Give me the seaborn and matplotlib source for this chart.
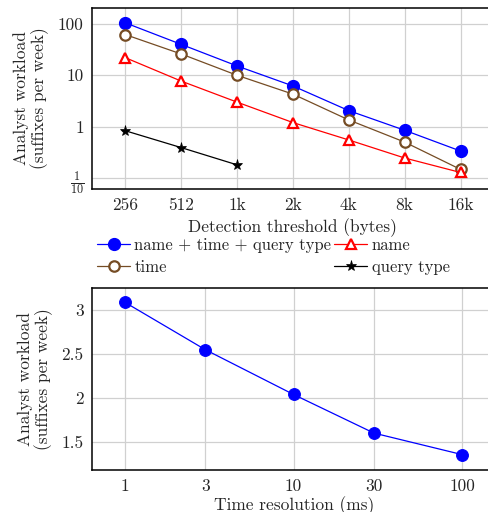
import numpy as np
import pandas as pd
import seaborn as sns
import matplotlib
matplotlib.use("Agg")
from matplotlib import pyplot as plt
from matplotlib.lines import Line2D

# top panel: workload vs detection threshold
thresholds = [256, 512, 1024, 2048, 4096, 8192, 16384]
threshold_labels = ['256', '512', '1k', '2k', '4k', '8k', '16k']
all_features = [105, 40, 15.2, 6.2, 2.05, 0.85, 0.335]
time_only = [62, 26, 10, 4.3, 1.35, 0.5, 0.147]
name_only = [22, 7.7, 3.0, 1.2, 0.55, 0.245, 0.128]
query_type = [0.83, 0.39, 0.18]

# bottom panel: workload vs time resolution
resolutions = [1, 3, 10, 30, 100]
resolution_workload = [3.09, 2.55, 2.04, 1.60, 1.355]

sns.set_style('whitegrid')
plt.rcParams['font.family'] = ['cmr10', 'DejaVu Serif']
plt.rcParams['mathtext.fontset'] = 'cm'
plt.rcParams['axes.formatter.use_mathtext'] = True
plt.rcParams['font.size'] = 12

FS = 12.5
GRID = '#d0d0d0'
BROWN = '#754c24'


def style_axes(ax):
    ax.grid(True, which='major', color=GRID, linewidth=0.9)
    ax.grid(False, which='minor')
    for side in ['left', 'bottom', 'top', 'right']:
        ax.spines[side].set_color('black')
        ax.spines[side].set_linewidth(1.1)
    ax.tick_params(which='major', direction='in', length=4, color='#808080',
                   labelsize=FS, pad=6)
    ax.tick_params(which='minor', length=0)
    ax.set_facecolor('white')


fig = plt.figure(figsize=(4.89, 5.12), dpi=100)
ax1 = fig.add_axes([92 / 489, 1 - 189 / 512, 402 / 489, 181 / 512])
ax2 = fig.add_axes([92 / 489, 1 - 470 / 512, 404 / 489, 182 / 512])

top = pd.DataFrame({
    'x': thresholds * 3 + thresholds[:3],
    'y': all_features + time_only + name_only + query_type,
    'series': (['name + time + query type'] * 7 + ['time'] * 7 +
               ['name'] * 7 + ['query type'] * 3),
})

styles = {
    'name + time + query type': dict(color='#0000ff', marker='o', ms=8.5,
                                     mfc='#0000ff', mec='#0000ff', mew=1),
    'time': dict(color=BROWN, marker='o', ms=7.5, mfc='white', mec=BROWN, mew=1.6),
    'name': dict(color='#ff0000', marker='^', ms=7.5, mfc='white', mec='#ff0000', mew=1.6),
    'query type': dict(color='black', marker='*', ms=8, mfc='black', mec='black', mew=0.5),
}

for name, st in styles.items():
    d = top[top['series'] == name]
    sns.lineplot(data=d, x='x', y='y', ax=ax1, color=st['color'], linewidth=0.9,
                 marker=st['marker'], markersize=st['ms'], markerfacecolor=st['mfc'],
                 markeredgecolor=st['mec'], markeredgewidth=st['mew'], legend=False)

ax1.set_xscale('log', base=2)
ax1.set_yscale('log')
ax1.set_xlim(256 / 2 ** 0.6, 16384 * 2 ** 0.6)
ax1.set_ylim(0.061, 205)
ax1.set_xticks(thresholds)
ax1.set_xticklabels(threshold_labels)
ax1.set_yticks([0.1, 1, 10, 100])
ax1.set_yticklabels([r'$\frac{1}{10}$', '1', '10', '100'])
ax1.set_xlabel('Detection threshold (bytes)', fontsize=FS, labelpad=4)
ax1.set_ylabel('Analyst workload\n(suffixes per week)', fontsize=FS, labelpad=6,
               linespacing=1.1)
style_axes(ax1)

handles = [Line2D([], [], color=st['color'], linewidth=0.9, marker=st['marker'],
                  markersize=st['ms'], markerfacecolor=st['mfc'],
                  markeredgecolor=st['mec'], markeredgewidth=st['mew'])
           for st in styles.values()]
order = ['name + time + query type', 'time', 'name', 'query type']
handles = [handles[list(styles).index(n)] for n in order]
fig.legend(handles, order, ncol=2, frameon=False, fontsize=12,
           loc='upper left', bbox_to_anchor=(97 / 489, 1 - 238 / 512),
           handlelength=2.0, handletextpad=0.25, columnspacing=0.15,
           labelspacing=0.4, borderaxespad=0, borderpad=0)

bottom = pd.DataFrame({'x': resolutions, 'y': resolution_workload})
sns.lineplot(data=bottom, x='x', y='y', ax=ax2, color='#0000ff', linewidth=0.9,
             marker='o', markersize=8.5, markerfacecolor='#0000ff',
             markeredgecolor='#0000ff', legend=False)
ax2.set_xscale('log')
ax2.set_xlim(10 ** -0.195, 100 * 10 ** 0.2)
ax2.set_ylim(1.18, 3.253)
ax2.set_xticks(resolutions)
ax2.set_xticklabels([str(r) for r in resolutions])
ax2.set_yticks([1.5, 2, 2.5, 3])
ax2.set_yticklabels(['1.5', '2', '2.5', '3'])
ax2.set_xlabel('Time resolution (ms)', fontsize=FS, labelpad=2)
ax2.set_ylabel('Analyst workload\n(suffixes per week)', fontsize=FS, labelpad=6,
               linespacing=1.1)
style_axes(ax2)

fig.savefig('out.png', dpi=100, facecolor='white')
